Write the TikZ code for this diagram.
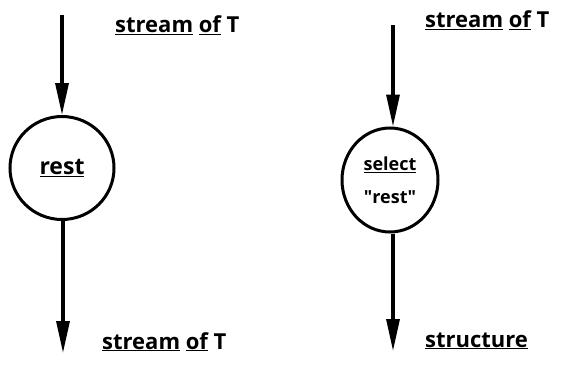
\documentclass[tikz,border=0pt]{standalone}
\usepackage{fontspec}
\setmainfont{Open Sans}[BoldFont={* Bold}]
\usetikzlibrary{arrows.meta,shapes.geometric}
\newcommand\ulw[1]{\underline{#1}}
\begin{document}
\begin{tikzpicture}[x=1pt,y=-1pt,
  flow/.style={line width=3.2pt,-{Triangle[length=32pt,width=13pt]}},
  proc/.style={ellipse,draw,line width=3pt,inner sep=0pt,align=center},
  lbl/.style={anchor=base west,inner sep=0pt,font=\bfseries\fontsize{22}{24}\selectfont}]
\useasboundingbox (0,0) rectangle (564,369);
% left
\node[proc,minimum width=104pt,minimum height=103pt,font=\bfseries\fontsize{23}{24}\selectfont] (rest) at (62,168) {\ulw{rest}};
\coordinate (lin) at (62,15);
\coordinate (lout) at (63,353);
\draw[flow] (lin) -- (lin |- rest.north);
\draw[flow] (lout |- rest.south) -- (lout);
\node[lbl] (l1) at (115,33) {\ulw{stream} \ulw{of} T};
\node[lbl] (l2) at (102,349) {\ulw{stream} \ulw{of} T};
% right
\node[proc,minimum width=96pt,minimum height=104pt,font=\bfseries\fontsize{18}{20}\selectfont] (sel) at (390,180) {\ulw{select}\\[13pt]\textquotedbl rest\textquotedbl};
\coordinate (rin) at (393,25);
\coordinate (rout) at (393,351);
\draw[flow] (rin) -- (rin |- sel.north);
\draw[flow] (rout |- sel.south) -- (rout);
\node[lbl] (r1) at (425,28) {\ulw{stream} \ulw{of} T};
\node[lbl] (r2) at (425,347) {\ulw{structure}};
\end{tikzpicture}
\end{document}
